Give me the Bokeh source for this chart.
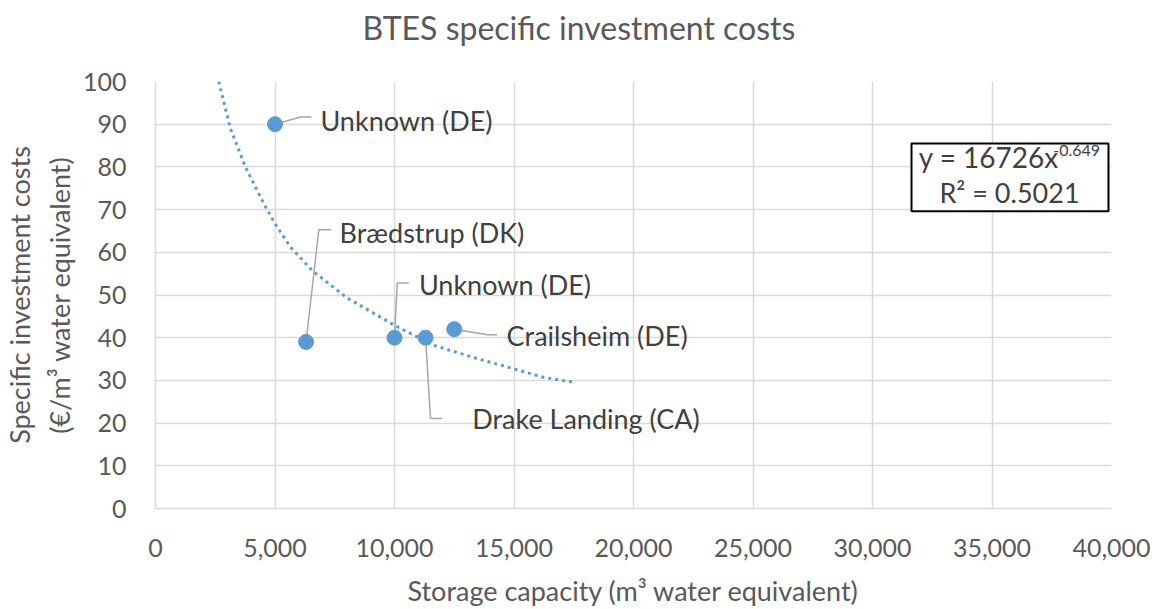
from bokeh.plotting import figure
from bokeh.models import (Label, BoxAnnotation, NumeralTickFormatter, FixedTicker, Range1d, Title)
from bokeh.embed import file_html
from bokeh.resources import INLINE

# ---- data -------------------------------------------------------------
names = ["Unknown (DE)", "Brædstrup (DK)", "Unknown (DE)", "Drake Landing (CA)", "Crailsheim (DE)"]
capacity = [5000, 6300, 10000, 11300, 12500]          # m3 water equivalent
cost = [90, 39, 40, 40, 42]                             # EUR / m3 water equivalent

# power-law trend line
trend_x = [2650, 2720, 3140, 3770, 4530, 5000, 5650, 6560, 8020, 10000, 11650, 13460, 15000, 16250, 17450]
trend_y = [100.0, 98.3, 88.9, 79.9, 71.4, 66.7, 61.2, 55.7, 49.3, 42.9, 38.2, 35.1, 32.7, 30.7, 29.6]

x_ticks = [0, 5000, 10000, 15000, 20000, 25000, 30000, 35000, 40000]
y_ticks = [0, 10, 20, 30, 40, 50, 60, 70, 80, 90, 100]

title_text = "BTES specific investment costs"
x_title = "Storage capacity (m³ water equivalent)"
y_title = "Specific investment costs\n(€/m³ water equivalent)"
eq_main = "y = 16726x"
eq_exp = "-0.649"
eq_r2 = "R² = 0.5021"

# ---- annotation placement (data units) ---------------------------------
label_pos = [(6900, 90.9), (7700, 64.7), (11020, 52.4), (13250, 21.0), (14690, 40.5)]
leader_bend = [(6067, 91.7), (6834, 65.3), (10113, 52.8), (11506, 21.1), (13880, 40.7)]
leader_end = [(6527, 91.7), (7351, 65.3), (10600, 52.8), (11995, 21.1), (14290, 40.7)]
eq_box = dict(left=31632, right=39874, bottom=69.6, top=85.5)
eq_main_pos = (37800, 82.3)
eq_exp_pos = (37560, 83.9)
eq_r2_pos = (35732, 74.0)

FONT = "Lato"
BLUE = "#5B9BD5"
GRID = "#D9D9D9"
TXT = "#404040"
TICK = "#595959"

p = figure(width=1158, height=609, output_backend="svg", toolbar_location=None,
           x_range=Range1d(0, 40000), y_range=Range1d(0, 100),
           min_border_left=155, min_border_right=47, min_border_top=81, min_border_bottom=101)
p.outline_line_color = None
p.background_fill_color = "white"

p.title.text = title_text
p.title.text_font = FONT
p.title.text_font_size = "32px"
p.title.text_font_style = "normal"
p.title.text_color = TICK
p.title.align = "left"
p.title.vertical_align = "bottom"
p.title.offset = 207
p.title.standoff = 0

# spacer between title and plot frame
p.add_layout(Title(text=" ", text_font_size="2px", standoff=31), "above")

for ax in (p.xaxis[0], p.yaxis[0]):
    ax.axis_line_color = GRID
    ax.axis_line_width = 1.5
    ax.major_tick_line_color = None
    ax.minor_tick_line_color = None
    ax.major_label_text_font = FONT
    ax.major_label_text_font_size = "25px"
    ax.major_label_text_color = TICK
    ax.axis_label_text_font = FONT
    ax.axis_label_text_font_size = "27px"
    ax.axis_label_text_font_style = "normal"
    ax.axis_label_text_color = TICK
p.xaxis.axis_label = x_title
p.yaxis.axis_label = y_title
p.xaxis.ticker = FixedTicker(ticks=x_ticks)
p.yaxis.ticker = FixedTicker(ticks=y_ticks)
p.xaxis.formatter = NumeralTickFormatter(format="0,0")
p.xaxis.major_label_standoff = 24
p.yaxis.major_label_standoff = 23
p.xaxis.axis_label_standoff = 14
p.yaxis.axis_label_standoff = 4
p.xgrid.ticker = FixedTicker(ticks=x_ticks)
p.ygrid.ticker = FixedTicker(ticks=y_ticks)
p.xgrid.grid_line_color = GRID
p.ygrid.grid_line_color = GRID
p.xgrid.grid_line_width = 1.5
p.ygrid.grid_line_width = 1.5

# trend line
p.line(trend_x, trend_y, line_color=BLUE, line_width=3, line_dash="3 4")

# leader lines
for (px_, py_), (bx, by), (ex, ey) in zip(zip(capacity, cost), leader_bend, leader_end):
    p.line([px_, bx, ex], [py_, by, ey], line_color="#A6A6A6", line_width=1.5)

# points
p.scatter(capacity, cost, size=15, fill_color=BLUE, line_color=BLUE)

# data labels
for name, (lx, ly) in zip(names, label_pos):
    p.add_layout(Label(x=lx, y=ly, text=name, text_font=FONT, text_font_size="27px",
                       text_color=TXT, text_align="left", text_baseline="middle"))

# equation box
p.add_layout(BoxAnnotation(**eq_box, fill_color="white", fill_alpha=1.0,
                           line_color="black", line_alpha=1.0, line_width=2))
p.add_layout(Label(x=eq_main_pos[0], y=eq_main_pos[1], text=eq_main, text_font=FONT,
                   text_font_size="28px", text_color=TXT,
                   text_align="right", text_baseline="middle"))
p.add_layout(Label(x=eq_exp_pos[0], y=eq_exp_pos[1], text=eq_exp, text_font=FONT,
                   text_font_size="16px", text_color=TXT,
                   text_align="left", text_baseline="middle"))
p.add_layout(Label(x=eq_r2_pos[0], y=eq_r2_pos[1], text=eq_r2, text_font=FONT,
                   text_font_size="27px", text_color=TXT,
                   text_align="center", text_baseline="middle"))

open("out.html", "w").write(file_html(p, INLINE))
